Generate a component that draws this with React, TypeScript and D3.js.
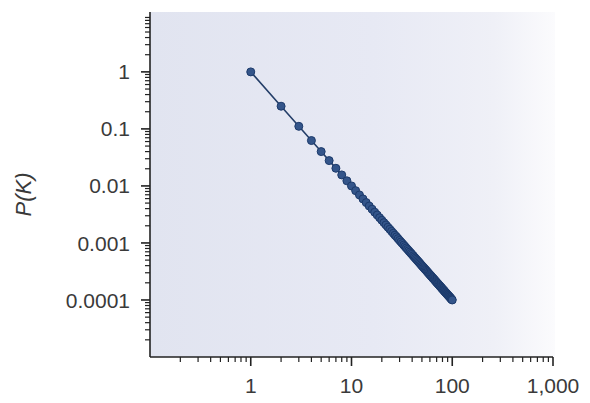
import React from "react";
import * as d3 from "d3";

// degree k and probability P(k)
const degree = [
  1, 2, 3, 4, 5, 6, 7, 8, 9, 10, 11, 12, 13, 14, 15, 16, 17, 18, 19, 20,
  21, 22, 23, 24, 25, 26, 27, 28, 29, 30, 31, 32, 33, 34, 35, 36, 37, 38, 39, 40,
  41, 42, 43, 44, 45, 46, 47, 48, 49, 50, 51, 52, 53, 54, 55, 56, 57, 58, 59, 60,
  61, 62, 63, 64, 65, 66, 67, 68, 69, 70, 71, 72, 73, 74, 75, 76, 77, 78, 79, 80,
  81, 82, 83, 84, 85, 86, 87, 88, 89, 90, 91, 92, 93, 94, 95, 96, 97, 98, 99, 100,
];
const probability = [
  1, 0.25, 0.111, 0.0625, 0.04, 0.0278, 0.0204, 0.0156, 0.0123, 0.01,
  0.00826, 0.00694, 0.00592, 0.0051, 0.00444, 0.00391, 0.00346, 0.00309, 0.00277, 0.0025,
  0.00227, 0.00207, 0.00189, 0.00174, 0.0016, 0.00148, 0.00137, 0.00128, 0.00119, 0.00111,
  0.00104, 0.000977, 0.000918, 0.000865, 0.000816, 0.000772, 0.00073, 0.000693, 0.000657, 0.000625,
  0.000595, 0.000567, 0.000541, 0.000517, 0.000494, 0.000473, 0.000453, 0.000434, 0.000416, 0.0004,
  0.000384, 0.00037, 0.000356, 0.000343, 0.000331, 0.000319, 0.000308, 0.000297, 0.000287, 0.000278,
  0.000269, 0.00026, 0.000252, 0.000244, 0.000237, 0.00023, 0.000223, 0.000216, 0.00021, 0.000204,
  0.000198, 0.000193, 0.000188, 0.000183, 0.000178, 0.000173, 0.000169, 0.000164, 0.00016, 0.000156,
  0.000152, 0.000149, 0.000145, 0.000142, 0.000138, 0.000135, 0.000132, 0.000129, 0.000126, 0.000123,
  0.000121, 0.000118, 0.000116, 0.000113, 0.000111, 0.000109, 0.000106, 0.000104, 0.000102, 0.0001,
];

const xTicks = [1, 10, 100, 1000];
const xTickLabels = ["1", "10", "100", "1,000"];
const yTicks = [1, 0.1, 0.01, 0.001, 0.0001];
const yTickLabels = ["1", "0.1", "0.01", "0.001", "0.0001"];
const yLabel = "P(K)";

const width = 590;
const height = 403;
const left = 150;
const right = 553;
const top = 12;
const bottom = 357;

export default function App() {
  const x = d3.scaleLog().domain([0.1, 1000]).range([left, right]);
  const y = d3.scaleLog().domain([1e-5, Math.pow(10, 1.05)]).range([bottom, top]);

  const points = degree.map((k, i) => ({ k, p: probability[i] }));
  const line = d3
    .line<{ k: number; p: number }>()
    .x((d) => x(d.k))
    .y((d) => y(d.p));

  // minor ticks on both log axes
  const xMinor: number[] = [];
  [0.1, 1, 10, 100].forEach((d) => {
    for (let m = 2; m <= 9; m++) xMinor.push(d * m);
  });
  const yMinor: number[] = [];
  [1e-5, 1e-4, 1e-3, 1e-2, 1e-1, 1].forEach((d) => {
    for (let m = 2; m <= 9; m++) if (d * m <= y.domain()[1]) yMinor.push(d * m);
  });

  const font = "'Liberation Sans', Arial, Helvetica, sans-serif";

  return (
    <svg
      width={width}
      height={height}
      style={{ position: "absolute", left: 0, top: 0, background: "#fff" }}
    >
      <defs>
        <linearGradient id="bg" x1="0" x2="1" y1="0" y2="0">
          <stop offset="0%" stopColor="#e1e4f0" />
          <stop offset="55%" stopColor="#e7e9f4" />
          <stop offset="85%" stopColor="#eff0f7" />
          <stop offset="100%" stopColor="#fbfbfd" />
        </linearGradient>
      </defs>
      <rect x={left} y={top} width={right + 2 - left} height={bottom - top} fill="url(#bg)" />

      {/* series */}
      <path d={line(points) || ""} fill="none" stroke="#243e68" strokeWidth={1.6} />
      {points.map((d, i) => (
        <circle
          key={i}
          cx={x(d.k)}
          cy={y(d.p)}
          r={4}
          fill="#34558a"
          stroke="#1c3a6b"
          strokeWidth={1}
        />
      ))}

      {/* axes */}
      <g stroke="#222" strokeWidth={1.6}>
        <line x1={left} x2={left} y1={top} y2={bottom} />
        <line x1={left} x2={right} y1={bottom} y2={bottom} />
        {xTicks.map((t) => (
          <line key={"xt" + t} x1={x(t)} x2={x(t)} y1={bottom} y2={bottom + 9} />
        ))}
        {xMinor.map((t, i) => (
          <line key={"xm" + i} x1={x(t)} x2={x(t)} y1={bottom} y2={bottom + 5} strokeWidth={1.2} />
        ))}
        {yTicks.map((t) => (
          <line key={"yt" + t} x1={left - 9} x2={left} y1={y(t)} y2={y(t)} />
        ))}
        {yMinor.map((t, i) => (
          <line key={"ym" + i} x1={left - 5} x2={left} y1={y(t)} y2={y(t)} strokeWidth={1.2} />
        ))}
      </g>

      <g fontFamily={font} fontSize={21} fill="#3a3a3a">
        {xTicks.map((t, i) => (
          <text key={"xl" + t} x={x(t)} y={bottom + 36} textAnchor="middle">
            {xTickLabels[i]}
          </text>
        ))}
        {yTicks.map((t, i) => (
          <text key={"yl" + t} x={left - 20} y={y(t)} dy="0.36em" textAnchor="end">
            {yTickLabels[i]}
          </text>
        ))}
        <text
          transform={`translate(31, ${(top + bottom) / 2 + 10}) rotate(-90)`}
          textAnchor="middle"
          fontStyle="italic"
          fontSize={22}
        >
          {yLabel}
        </text>
      </g>
    </svg>
  );
}
